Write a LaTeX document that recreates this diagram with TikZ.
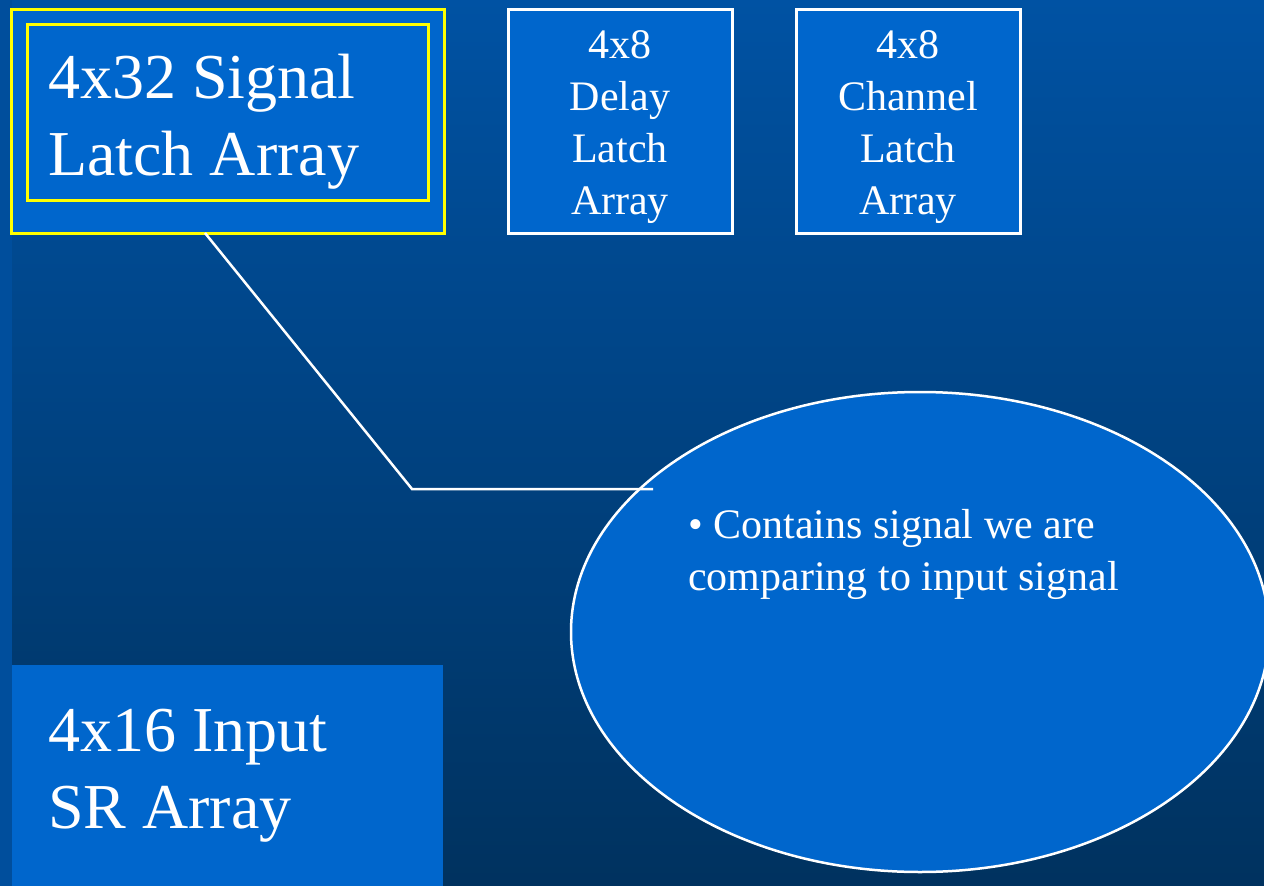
\documentclass[tikz,border=0pt]{standalone}
\usepackage{fontspec}
\setmainfont{Liberation Serif}
\usetikzlibrary{shapes.geometric}
\definecolor{bgtop}{HTML}{0052A3}
\definecolor{bgbot}{HTML}{00325F}
\definecolor{strip}{HTML}{004E9C}
\definecolor{boxfill}{HTML}{0066CC}
\definecolor{ylw}{HTML}{FFFF00}
\tikzset{
  box/.style={fill=boxfill, draw=white, line width=3pt},
  ybox/.style={fill=boxfill, draw=ylw, line width=3pt},
  bigtxt/.style={text=white, inner sep=0pt, align=left, font=\fontsize{64}{77}\selectfont},
  smalltxt/.style={text=white, inner sep=0pt, align=center, font=\fontsize{42}{52}\selectfont},
  link/.style={draw=white, line width=2.5pt}
}
\begin{document}
\begin{tikzpicture}[x=1pt,y=-1pt]
\useasboundingbox (0,0) rectangle (1264,886);
\clip (0,0) rectangle (1264,886);
\shade[top color=bgtop, bottom color=bgbot] (0,0) rectangle (1264,886);
\fill[strip] (0,0) rectangle (12,886);
% signal latch array
\draw[ybox] (11,9) rectangle (444,233);
\draw[ybox] (27,24) rectangle (428,200);
\node[bigtxt, anchor=base west] (sig) at (48,175) {4x32 Signal\\Latch Array};
% delay
\draw[box] (508,9) rectangle (732,233);
\node[smalltxt, anchor=base] (delay) at (620,214) {4x8\\Delay\\Latch\\Array};
% channel
\draw[box] (796,9) rectangle (1020,233);
\node[smalltxt, anchor=base] (chan) at (908,214) {4x8\\Channel\\Latch\\Array};
% input
\fill[boxfill] (12,665) rectangle (443,890);
\node[bigtxt, anchor=base west] (inp) at (48,828) {4x16 Input\\SR Array};
% ellipse callout
\node[ellipse, fill=boxfill, draw=white, line width=2.5pt, minimum width=698pt, minimum height=480pt, inner sep=0pt] (ell) at (920,632) {};
\coordinate (c0) at (205,233);
\coordinate (c1) at (412,489);
\coordinate (c2) at (653,489);
\draw[link] (c0) -- (c1) -- (c2);
\node[smalltxt, align=left, anchor=base west] (note) at (688,590) {\textbullet{} Contains signal we are\\comparing to input signal};
\end{tikzpicture}
\end{document}
